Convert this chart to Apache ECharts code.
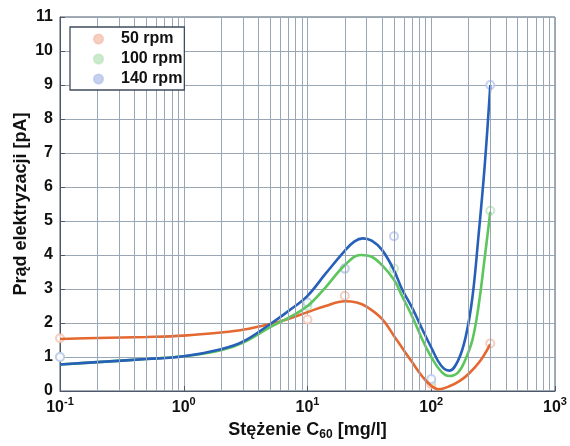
<!DOCTYPE html>
<html>
<head>
<meta charset="utf-8">
<script src="https://cdn.jsdelivr.net/npm/echarts@6/dist/echarts.min.js"></script>
<style>
  html, body { margin: 0; padding: 0; background: #fff; }
  #chart { width: 570px; height: 446px; }
</style>
</head>
<body>
<div id="chart"></div>
<script>
// fitted curves
const redX = [0.1, 0.2, 0.5, 1, 2, 3, 5, 7, 10, 14, 20, 25, 30, 40, 50, 60, 70, 85, 100, 115, 140, 170, 200, 250, 300]
const redY = [1.53, 1.56, 1.59, 1.63, 1.72, 1.8, 1.97, 2.12, 2.32, 2.5, 2.64, 2.6, 2.48, 2.12, 1.62, 1.2, 0.85, 0.42, 0.15, 0.05, 0.14, 0.3, 0.5, 0.9, 1.38]

const greenX = [0.1, 0.2, 0.5, 1, 2, 3, 5, 7, 10, 14, 20, 27, 33, 40, 50, 58, 70, 85, 100, 120, 140, 165, 190, 215, 240, 270, 300]
const greenY = [0.78, 0.85, 0.94, 1.02, 1.2, 1.42, 1.88, 2.15, 2.5, 3.05, 3.7, 4.0, 3.95, 3.7, 3.27, 2.8, 2.2, 1.5, 1.0, 0.58, 0.44, 0.55, 0.95, 1.5, 2.45, 3.9, 5.27]

const blueX = [0.1, 0.2, 0.5, 1, 2, 3, 5, 7, 10, 14, 20, 24, 28, 33, 40, 50, 58, 70, 85, 100, 120, 140, 165, 190, 215, 240, 270, 300]
const blueY = [0.78, 0.85, 0.94, 1.02, 1.23, 1.45, 1.97, 2.35, 2.8, 3.45, 4.12, 4.4, 4.49, 4.42, 4.15, 3.55, 3.0, 2.45, 1.8, 1.28, 0.75, 0.6, 0.9, 1.6, 2.75, 4.5, 6.6, 9.0]

// measured points
const redPtX = [0.1, 10, 20, 100, 300]
const redPtY = [1.55, 2.1, 2.8, 0.2, 1.4]
const greenPtX = [0.1, 10, 20, 50, 100, 300]
const greenPtY = [1.0, 2.5, 3.6, 3.6, 0.3, 5.3]
const bluePtX = [0.1, 10, 20, 50, 100, 300]
const bluePtY = [1.0, 2.6, 3.6, 4.55, 0.35, 9.0]

const names = ['50 rpm', '100 rpm', '140 rpm']
const yTicks = [0, 1, 2, 3, 4, 5, 6, 7, 8, 9, 10, 11]
// minor log grid positions
const minorX = [0.2, 0.3, 0.4, 0.5, 0.6, 0.7, 0.8, 0.9,
  2, 3, 4, 5, 6, 7, 8, 9,
  20, 30, 40, 50, 60, 70, 80, 90,
  200, 300, 400, 500, 600, 700, 800, 900]

const lineColors = ['#e4682f', '#5cc65c', '#2660b8']
const ptColors = ['#f5c2b0', '#bfe5bf', '#b8c6ec']
const gridColor = '#98a6b6'
const axisColor = '#4a5868'
const font = 'Liberation Sans, Arial, sans-serif'

const zip = (xs, ys) => xs.map((x, i) => [x, ys[i]])

const curves = [zip(redX, redY), zip(greenX, greenY), zip(blueX, blueY)]
const points = [zip(redPtX, redPtY), zip(greenPtX, greenPtY), zip(bluePtX, bluePtY)]

const series = [
  {
    type: 'line',
    data: [],
    silent: true,
    markLine: {
      silent: true,
      symbol: 'none',
      animation: false,
      label: { show: false },
      lineStyle: { color: gridColor, width: 1, type: 'solid' },
      data: minorX.map(v => ({ xAxis: v }))
    }
  }
]
points.forEach((p, i) => {
  series.push({
    name: names[i],
    type: 'scatter',
    data: p,
    symbol: 'emptyCircle',
    symbolSize: 8,
    itemStyle: { color: ptColors[i], borderColor: ptColors[i], borderWidth: 1.5 },
    z: 3
  })
})
curves.forEach((c, i) => {
  series.push({
    name: names[i] + ' fit',
    type: 'line',
    data: c,
    smooth: 0.4,
    showSymbol: false,
    lineStyle: { color: lineColors[i], width: 2.6 },
    z: 4
  })
})

const chart = echarts.init(document.getElementById('chart'))
chart.setOption({
  animation: false,
  backgroundColor: '#fff',
  textStyle: { fontFamily: font },
  grid: {
    left: 60, right: 15, top: 17, bottom: 52,
    show: true, borderColor: axisColor, borderWidth: 1
  },
  legend: {
    left: 70, top: 27,
    orient: 'vertical',
    data: names.map((n, i) => ({ name: n, icon: 'circle', itemStyle: { color: ptColors[i] } })),
    backgroundColor: '#fff',
    borderColor: '#3e4c5c', borderWidth: 1.3,
    padding: [4, 2, 3, 23],
    itemWidth: 9, itemHeight: 9, itemGap: 4,
    textStyle: { fontSize: 16, fontWeight: 'bold', lineHeight: 16, color: '#111', fontFamily: font, padding: [0, 0, 0, 13] },
    z: 10
  },
  xAxis: {
    type: 'log',
    logBase: 10,
    min: 0.1, max: 1000,
    name: 'Stężenie C{sub|60} [mg/l]',
    nameLocation: 'middle',
    nameGap: 29,
    nameMoveOverlap: false,
    nameTextStyle: {
      fontSize: 18, fontWeight: 'bold', color: '#111', fontFamily: font,
      rich: { sub: { fontSize: 12, fontWeight: 'bold', verticalAlign: 'bottom', padding: [9, 0, 0, 0], color: '#111', fontFamily: font } }
    },
    axisLine: { show: true, lineStyle: { color: axisColor } },
    axisTick: { inside: true, length: 5, lineStyle: { color: axisColor } },
    splitLine: { show: true, lineStyle: { color: gridColor, width: 1 } },
    axisLabel: {
      margin: 5,
      formatter: v => '{b|10}{s|' + Math.round(Math.log10(v)) + '}',
      rich: {
        b: { fontSize: 16, fontWeight: 'bold', color: '#111', fontFamily: font, lineHeight: 20, verticalAlign: 'bottom' },
        s: { fontSize: 11, fontWeight: 'bold', color: '#111', fontFamily: font, verticalAlign: 'top' }
      }
    }
  },
  yAxis: {
    type: 'value',
    min: yTicks[0], max: yTicks[yTicks.length - 1], interval: 1,
    name: 'Prąd elektryzacji [pA]',
    nameLocation: 'middle',
    nameGap: 30,
    nameMoveOverlap: false,
    nameTextStyle: { fontSize: 18, fontWeight: 'bold', color: '#111', fontFamily: font },
    axisLine: { show: true, lineStyle: { color: axisColor } },
    axisTick: { show: true, inside: true, length: 5, lineStyle: { color: axisColor } },
    splitLine: { show: true, lineStyle: { color: gridColor, width: 1 } },
    axisLabel: { fontSize: 16, fontWeight: 'bold', color: '#111', margin: 7, fontFamily: font }
  },
  series: series
})
</script>
</body>
</html>
